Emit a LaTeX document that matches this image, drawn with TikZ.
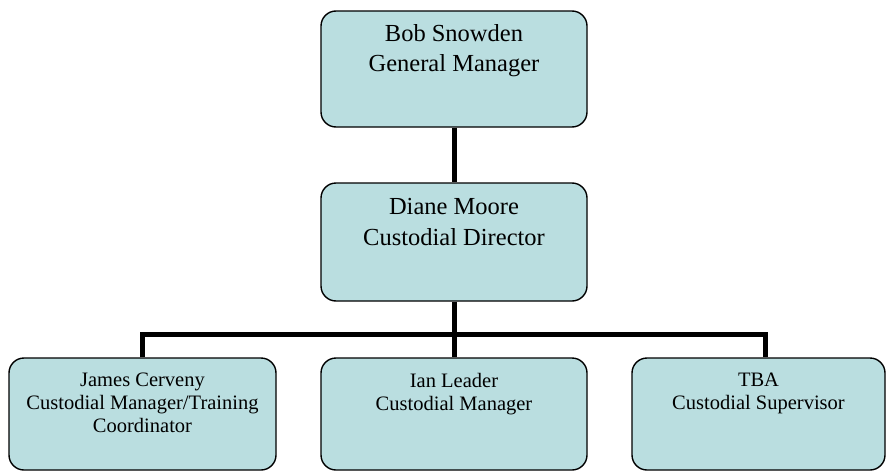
\documentclass[tikz,border=0pt]{standalone}
\usepackage{fontspec}
\setmainfont{Liberation Serif}
\definecolor{boxfill}{RGB}{186,222,224}
\begin{document}
\begin{tikzpicture}[x=1pt,y=-1pt,
  orgbox/.style={draw=black, line width=1.4pt, fill=boxfill, rounded corners=15pt, inner sep=0pt},
  link/.style={line width=5pt, draw=black},
  bigtext/.style={inner sep=0pt, anchor=north, align=center, font=\fontsize{24.5}{30.5}\selectfont},
  smalltext/.style={inner sep=0pt, anchor=north, align=center, font=\fontsize{20.5}{23}\selectfont}]
\useasboundingbox (0,0) rectangle (886,471);
% boxes
\node[orgbox, minimum width=266pt, minimum height=116pt] (top) at (454,69) {};
\node[orgbox, minimum width=266pt, minimum height=118pt] (mid) at (454,242) {};
\node[orgbox, minimum width=267pt, minimum height=112pt] (bl) at (142.5,414) {};
\node[orgbox, minimum width=266pt, minimum height=112pt] (bm) at (454,414) {};
\node[orgbox, minimum width=253pt, minimum height=112pt] (br) at (758.5,414) {};
% texts
\node[bigtext] (toptext) at (454,24) {Bob Snowden\\General Manager};
\node[bigtext] (midtext) at (454,198.5) {Diane Moore\\Custodial Director};
\node[smalltext] (bltext) at (142.5,373) {James Cerveny\\Custodial Manager/Training\\Coordinator};
\node[smalltext] (bmtext) at (454,373) {Ian Leader\\Custodial Manager};
\node[smalltext] (brtext) at (758.5,373) {TBA\\Custodial Supervisor};
% connectors
\coordinate (bus) at (454,334);
\draw[link] (top.south) -- (mid.north);
\draw[link] (mid.south) -- (bm.north);
\draw[link] (bl.north) |- (bus) -| ([xshift=6.5pt]br.north);
\end{tikzpicture}
\end{document}
